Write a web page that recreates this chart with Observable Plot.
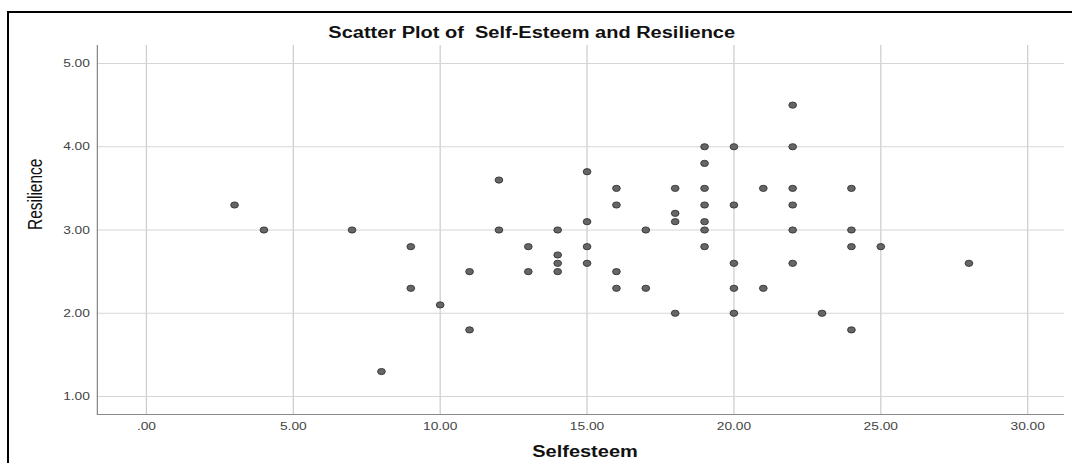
<!DOCTYPE html>
<html><head><meta charset="utf-8">
<script src="https://cdn.jsdelivr.net/npm/d3@7"></script>
<script src="https://cdn.jsdelivr.net/npm/@observablehq/plot@0.6"></script>
<style>
html,body{margin:0;padding:0;background:#fff;overflow:hidden;width:1072px;height:463px;scrollbar-width:none;}
::-webkit-scrollbar{display:none;width:0;height:0;}
#wrap{position:relative;width:1072px;height:463px;overflow:hidden;font-family:"Liberation Sans",Arial,sans-serif;}
#frame{position:absolute;left:7px;top:10.5px;width:1063px;height:450px;border-left:2.5px solid #000;border-top:2.5px solid #000;}
#title{position:absolute;left:0;width:1064px;top:24.5px;text-align:center;font-weight:bold;font-size:16px;line-height:16px;white-space:pre;color:#111;}
#title span{display:inline-block;transform:scaleX(1.25);}
#chart{position:absolute;left:0;top:40px;width:1072px;height:423px;overflow:hidden;}
#chart svg{display:block;}
#cover{position:absolute;left:1064px;top:14px;width:8px;height:449px;background:#fff;z-index:5;}
</style></head><body>
<div id="wrap"><div id="frame"></div><div id="title"><span>Scatter Plot of  Self-Esteem and Resilience</span></div><div id="chart"></div><div id="cover"></div></div>
<script>
const selfesteem = [3,4,7,8,9,9,10,11,11,12,12,13,13,14,14,14,14,15,15,15,15,16,16,16,16,17,17,18,18,18,18,19,19,19,19,19,19,19,20,20,20,20,20,21,21,22,22,22,22,22,22,23,24,24,24,24,25,28];
const resilience = [3.3,3.0,3.0,1.3,2.8,2.3,2.1,2.5,1.8,3.6,3.0,2.8,2.5,3.0,2.7,2.6,2.5,3.7,3.1,2.8,2.6,3.5,3.3,2.5,2.3,3.0,2.3,3.5,3.2,3.1,2.0,4.0,3.8,3.5,3.3,3.1,3.0,2.8,4.0,3.3,2.6,2.3,2.0,3.5,2.3,4.5,4.0,3.5,3.3,3.0,2.6,2.0,3.5,3.0,2.8,1.8,2.8,2.6];
const xTicks = [0,5,10,15,20,25,30];
const xTickLabels = [".00","5.00","10.00","15.00","20.00","25.00","30.00"];
const yTicks = [1,2,3,4,5];
const yTickLabels = ["1.00","2.00","3.00","4.00","5.00"];
const xDomain = [-1.67, 31.53];
const yDomain = [0.784, 5.216];
const xLabel = "Selfesteem";
const yLabel = "Resilience";

const data = selfesteem.map((s, i) => ({s, r: resilience[i]}));
const stretch = 1.25;
const W = 1072, H = 423;

const chart = Plot.plot({
  width: W / stretch, height: H,
  marginLeft: 77.4, marginRight: 0, marginTop: 5, marginBottom: 49,
  style: {fontFamily: "'Liberation Sans', Arial, sans-serif", fontSize: "11px", color: "#444", background: "transparent"},
  x: {domain: xDomain},
  y: {domain: yDomain},
  marks: [
    Plot.gridX(xTicks, {stroke: "#cdcdcd", strokeOpacity: 1}),
    Plot.gridY(yTicks, {stroke: "#d6d6d6", strokeOpacity: 1}),
    Plot.ruleX([xDomain[0]], {stroke: "#888"}),
    Plot.ruleY([yDomain[0]], {stroke: "#888"}),
    Plot.axisX(xTicks, {tickSize: 0, tickPadding: 8, tickFormat: d => xTickLabels[xTicks.indexOf(d)], label: null}),
    Plot.axisY(yTicks, {tickSize: 0, tickPadding: 6, tickFormat: d => yTickLabels[yTicks.indexOf(d)], label: null}),
    Plot.text([xLabel], {frameAnchor: "bottom", dy: 37.6, lineAnchor: "middle", fontSize: 16, fontWeight: "bold", fill: "#111"}),
    Plot.text([yLabel], {frameAnchor: "left", dx: -49.4, rotate: -90, lineAnchor: "middle", fontSize: 15.5, fill: "#111"}),
    Plot.dot(data, {x: "s", y: "r", r: 3.1, fill: "#666", stroke: "#333", strokeWidth: 0.8})
  ]
});
// stretch the drawing horizontally inside the SVG, like the reference picture
const ns = "http://www.w3.org/2000/svg";
const g = document.createElementNS(ns, "g");
g.setAttribute("transform", `scale(${stretch},1)`);
[...chart.childNodes].forEach(n => { if (n.nodeName.toLowerCase() !== "style") g.appendChild(n); });
chart.appendChild(g);
chart.setAttribute("width", W);
chart.setAttribute("viewBox", `0 0 ${W} ${H}`);
chart.style.maxWidth = "none";
document.getElementById("chart").appendChild(chart);
</script>
</body></html>
